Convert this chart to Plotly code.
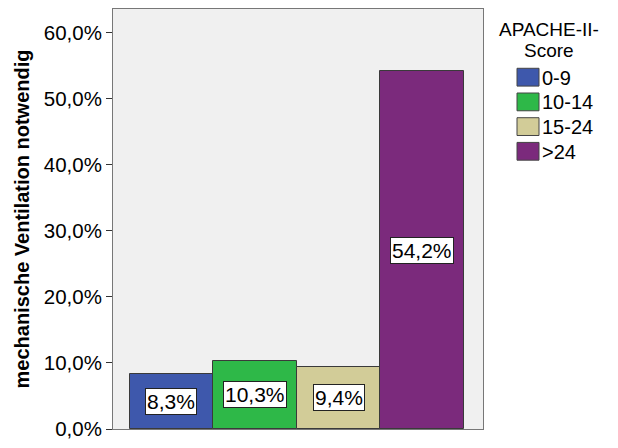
import plotly.graph_objects as go

# APACHE-II score groups and share needing mechanical ventilation (%)
groups = ["0-9", "10-14", "15-24", ">24"]
ventilation_pct = [8.3, 10.3, 9.4, 54.2]
bar_colors = ["#3E58AC", "#2EB848", "#D2CC98", "#7B2A7C"]
y_ticks = [0, 10, 20, 30, 40, 50, 60]
legend_title_lines = ["APACHE-II-", "Score"]
y_title = "mechanische Ventilation notwendig"

FONT = "Liberation Sans, Arial, sans-serif"

# plot-area pixel frame, used to place the hand-drawn legend in paper units
PX_L, PX_R, PX_T, PX_B = 113, 483, 8, 433


def px_x(px):
    return (px - PX_L) / (PX_R - PX_L)


def px_y(py):
    return (PX_B - py) / (PX_B - PX_T)


def pct_label(v):
    return f"{v:.1f}%".replace(".", ",")


fig = go.Figure()
for i, (g, v, c) in enumerate(zip(groups, ventilation_pct, bar_colors)):
    fig.add_trace(go.Bar(
        x=[i], y=[v], name=g, width=1.0,
        marker=dict(color=c, line=dict(color="#3a3a3a", width=1)),
        showlegend=False, hoverinfo="skip",
    ))
    # value label in a white box at the middle of the bar
    fig.add_annotation(
        x=i, y=v / 2, text=pct_label(v), showarrow=False,
        font=dict(family=FONT, size=21, color="black"),
        bgcolor="white", bordercolor="#222", borderwidth=1, borderpad=1,
    )

# legend drawn as swatches + labels to the right of the plot
for line, py in zip(legend_title_lines, [29, 50.5]):
    fig.add_annotation(
        xref="paper", yref="paper", x=px_x(549), y=px_y(py),
        xanchor="center", yanchor="middle", text=line, showarrow=False,
        font=dict(family=FONT, size=19, color="black"),
    )
for k, (g, c) in enumerate(zip(groups, bar_colors)):
    top = 68 + k * 25
    fig.add_shape(
        type="rect", xref="paper", yref="paper",
        x0=px_x(517), x1=px_x(539), y0=px_y(top), y1=px_y(top + 18),
        fillcolor=c, line=dict(color="#444", width=1),
    )
    fig.add_annotation(
        xref="paper", yref="paper", x=px_x(540), y=px_y(top + 9.5),
        xanchor="left", yanchor="middle", text=g, showarrow=False,
        font=dict(family=FONT, size=20, color="black"),
    )

fig.update_layout(
    width=618, height=448,
    margin=dict(l=PX_L, r=618 - PX_R, t=PX_T, b=448 - PX_B),
    paper_bgcolor="white", plot_bgcolor="#F0F0F0",
    bargap=0, showlegend=False,
    font=dict(family=FONT, color="black"),
)
fig.update_xaxes(
    range=[-0.7, 3.73], showticklabels=False, ticks="", showgrid=False,
    zeroline=False, showline=True, linecolor="#777", linewidth=1, mirror=True,
)
fig.update_yaxes(
    range=[0, 63.6], tickvals=y_ticks,
    ticktext=[pct_label(t) for t in y_ticks],
    ticks="outside", ticklen=6, tickcolor="#333",
    tickfont=dict(family=FONT, size=20.5, color="black"),
    showgrid=False, zeroline=False,
    showline=True, linecolor="#777", linewidth=1, mirror=True,
    title=dict(text=f"<b>{y_title}</b>", font=dict(family=FONT, size=20, color="black"), standoff=8),
)

fig.write_html("out.html")
